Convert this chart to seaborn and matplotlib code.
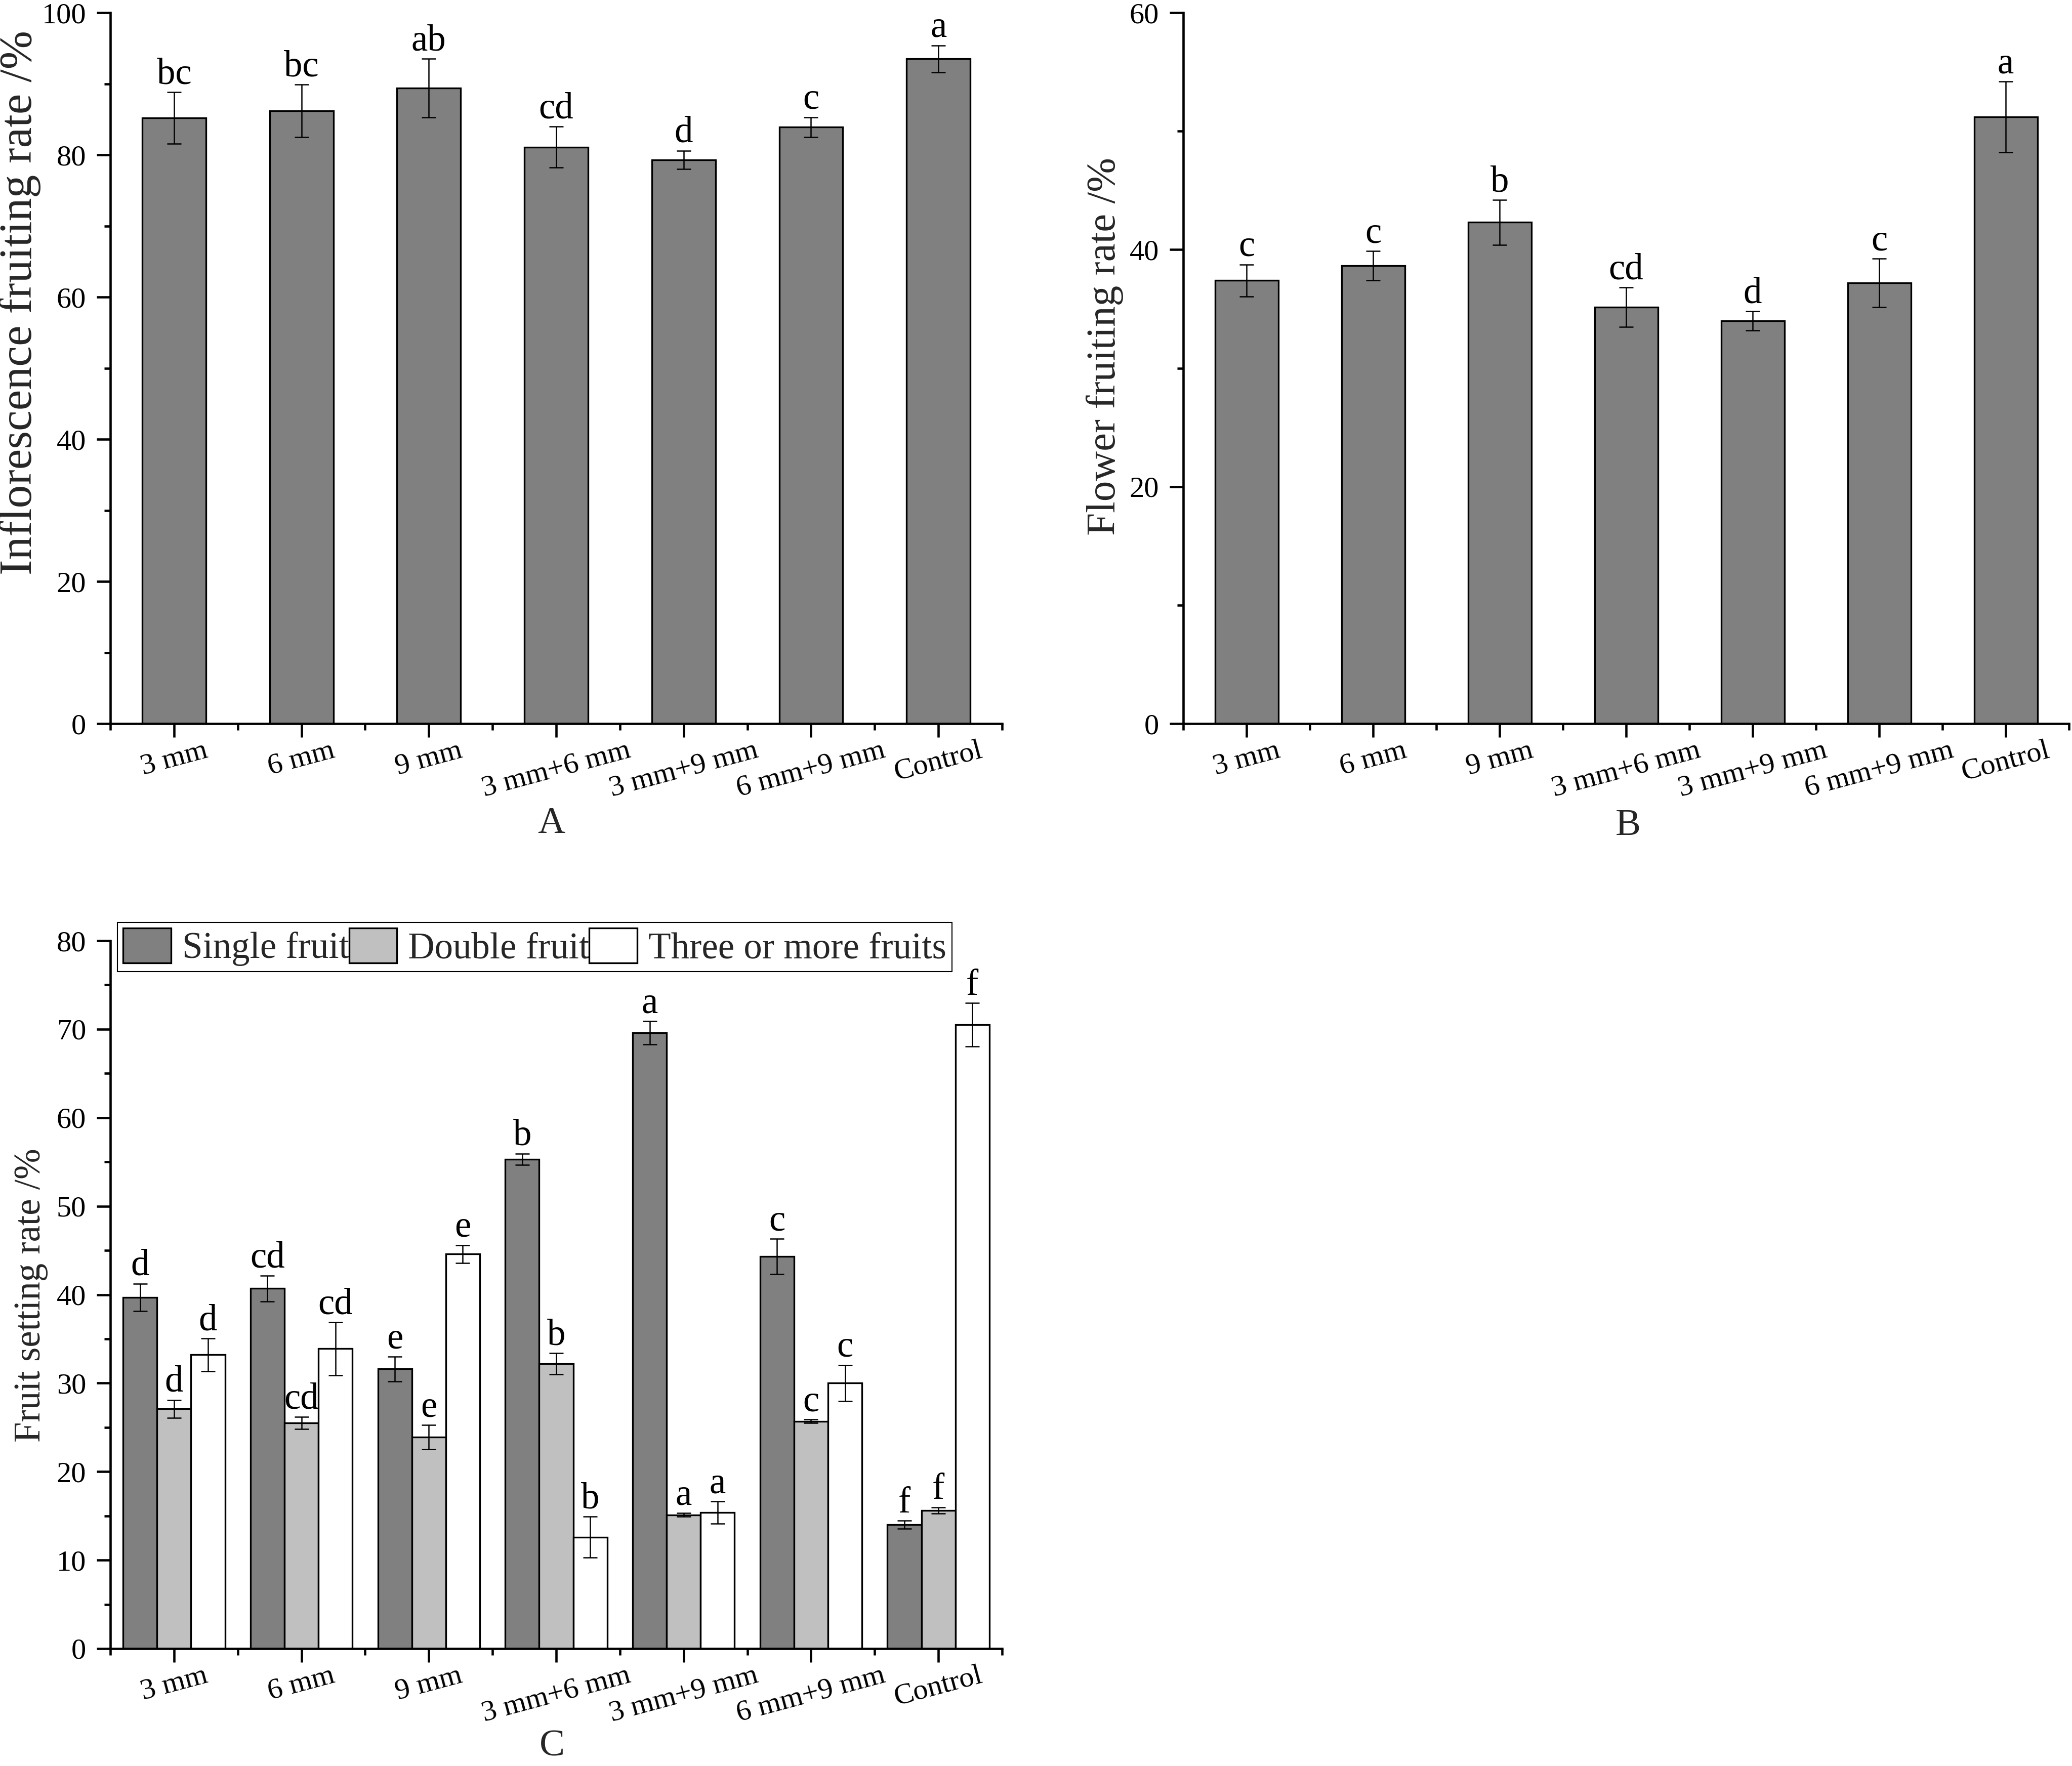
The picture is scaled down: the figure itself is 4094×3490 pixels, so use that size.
import numpy as np
import pandas as pd
import matplotlib
matplotlib.use("Agg")
import matplotlib.pyplot as plt
import seaborn as sns
from matplotlib.ticker import MultipleLocator, FixedLocator

# treatments on the x axis
treatments = ["3 mm", "6 mm", "9 mm", "3 mm+6 mm", "3 mm+9 mm", "6 mm+9 mm", "Control"]

# A: inflorescence fruiting rate
infl_mean = [85.2, 86.2, 89.4, 81.1, 79.3, 83.9, 93.5]
infl_err = [3.6, 3.7, 4.1, 2.9, 1.3, 1.4, 1.9]
infl_letters = ["bc", "bc", "ab", "cd", "d", "c", "a"]

# B: flower fruiting rate
flower_mean = [37.4, 38.65, 42.3, 35.15, 34.0, 37.2, 51.2]
flower_err = [1.35, 1.25, 1.9, 1.65, 0.8, 2.05, 3.0]
flower_letters = ["c", "c", "b", "cd", "d", "c", "a"]

# C: fruit setting rate by fruit type
fruit_types = ["Single fruit", "Double fruit", "Three or more fruits"]
single_mean = [39.7, 40.7, 31.6, 55.3, 69.6, 44.3, 14.0]
single_err = [1.55, 1.45, 1.4, 0.65, 1.3, 2.0, 0.45]
double_mean = [27.1, 25.5, 23.9, 32.2, 15.1, 25.7, 15.6]
double_err = [1.0, 0.7, 1.35, 1.2, 0.2, 0.2, 0.35]
three_mean = [33.2, 33.9, 44.6, 12.6, 15.4, 30.0, 70.5]
three_err = [1.85, 3.0, 1.0, 2.3, 1.25, 2.05, 2.45]
fruit_letters = ["d", "cd", "e", "b", "a", "c", "f"]

dark = "#808080"
light = "#c0c0c0"
white = "#ffffff"

sns.set_theme(style="ticks")
plt.rcParams["font.family"] = ["Liberation Serif", "DejaVu Serif"]
plt.rcParams["axes.linewidth"] = 1.1

W, H = 4094, 3490
fig = plt.figure(figsize=(W / 300, H / 300), dpi=300)


def px_axes(left, right, top, bottom):
    return fig.add_axes([left / W, 1 - bottom / H, (right - left) / W, (bottom - top) / H])


ax_a = px_axes(218, 1980, 25, 1430)
ax_b = px_axes(2338, 4088, 25, 1430)
ax_c = px_axes(218, 1980, 1859, 3258)


def style_axis(ax, ymax, major, minor):
    sns.despine(ax=ax)
    ax.set_xlim(-0.5, 6.5)
    ax.set_ylim(0, ymax)
    ax.yaxis.set_major_locator(MultipleLocator(major))
    ax.yaxis.set_minor_locator(MultipleLocator(minor))
    ax.xaxis.set_minor_locator(FixedLocator(np.arange(-0.5, 7, 1)))
    ax.tick_params(which="major", direction="out", length=6.5, width=1.1,
                   labelsize=14, color="black", labelcolor="black")
    ax.tick_params(which="minor", direction="out", length=3, width=1.1, color="black")
    ax.tick_params(axis="y", which="major", pad=5)
    ax.tick_params(axis="x", which="major", pad=0, labelrotation=15)
    for sp in ax.spines.values():
        sp.set_color("black")
    ax.set_xlabel("")
    ax.set_ylabel("")


def add_errors(ax, bars, err, letters):
    xs = [b.get_x() + b.get_width() / 2 for b in bars]
    ys = [b.get_height() for b in bars]
    ax.errorbar(xs, ys, yerr=err, fmt="none", ecolor="black", elinewidth=0.6,
                capsize=3.3, capthick=0.6, zorder=5)
    for x, y, e, t in zip(xs, ys, err, letters):
        ax.annotate(t, (x, y + e), xytext=(0, 4), textcoords="offset points",
                    ha="center", va="baseline", fontsize=17.5, color="black")


bar_kw = dict(edgecolor="black", linewidth=0.8, saturation=1, errorbar=None)

# A
df_a = pd.DataFrame({"treatment": treatments, "rate": infl_mean})
sns.barplot(data=df_a, x="treatment", y="rate", color=dark, width=0.5, ax=ax_a, **bar_kw)
style_axis(ax_a, 100, 20, 10)
add_errors(ax_a, list(ax_a.containers[0]), infl_err, infl_letters)

# B
df_b = pd.DataFrame({"treatment": treatments, "rate": flower_mean})
sns.barplot(data=df_b, x="treatment", y="rate", color=dark, width=0.5, ax=ax_b, **bar_kw)
style_axis(ax_b, 60, 20, 10)
add_errors(ax_b, list(ax_b.containers[0]), flower_err, flower_letters)

# C
df_c = pd.DataFrame({
    "treatment": treatments * 3,
    "type": np.repeat(fruit_types, len(treatments)),
    "rate": single_mean + double_mean + three_mean,
})
sns.barplot(data=df_c, x="treatment", y="rate", hue="type", hue_order=fruit_types,
            palette=[dark, light, white], width=0.8, ax=ax_c, **bar_kw)
style_axis(ax_c, 80, 10, 5)
bar_groups = [list(c) for c in ax_c.containers[:3]]
for bars, err in zip(bar_groups, [single_err, double_err, three_err]):
    add_errors(ax_c, bars, err, fruit_letters)

if ax_c.get_legend() is not None:
    ax_c.get_legend().remove()
handles = [bars[0] for bars in bar_groups]
leg = ax_c.legend(handles, fruit_types, loc="upper left", bbox_to_anchor=(0.008, 1.0257),
                  ncol=3, frameon=True, fancybox=False, edgecolor="black", framealpha=1,
                  fontsize=17.5, handlelength=1.3, handleheight=1.07, handletextpad=0.3,
                  columnspacing=0.0, borderpad=0.15, borderaxespad=0)
leg.get_frame().set_linewidth(0.5)

# axis titles and panel letters
fig.text(40 / W, 1 - 598 / H, "Inflorescence fruiting rate /%", rotation=90,
         ha="center", va="center", fontsize=22)
fig.text(2183 / W, 1 - 685 / H, "Flower fruiting rate /%", rotation=90,
         ha="center", va="center", fontsize=19.5)
fig.text(61 / W, 1 - 2560 / H, "Fruit setting rate /%", rotation=90,
         ha="center", va="center", fontsize=17.5)
fig.text(1089 / W, 1 - 1628 / H, "A", ha="center", va="center", fontsize=18)
fig.text(3217 / W, 1 - 1632 / H, "B", ha="center", va="center", fontsize=18)
fig.text(1091 / W, 1 - 3452 / H, "C", ha="center", va="center", fontsize=18)

fig.savefig("out.png", dpi=300, facecolor="white")
